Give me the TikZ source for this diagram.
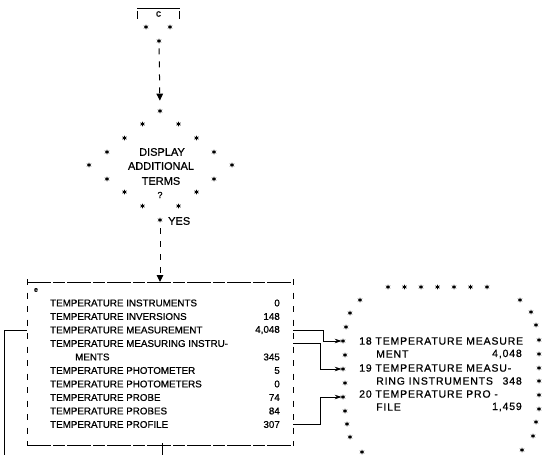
\documentclass[tikz,border=0pt]{standalone}
\usepackage{fontspec}
\setmainfont{Liberation Sans}[FakeBold=0.7]
\usetikzlibrary{shapes.geometric,arrows.meta,calc}
\begin{document}
\begin{tikzpicture}[x=1pt,y=-1pt,
  txt/.style={inner sep=0pt,font=\fontsize{9.8}{11}\selectfont},
  dtxt/.style={inner sep=0pt,font=\fontsize{11}{12}\selectfont},
  rtxt/.style={inner sep=0pt,font=\fontsize{10.5}{12}\selectfont\addfontfeatures{LetterSpace=8}},
  sm/.style={star,star points=6,star point ratio=2.6,fill=black,inner sep=0pt,minimum size=5.5pt},
  dconn/.style={line width=1pt,dash pattern=on 6pt off 7pt,-{Triangle[width=6.5pt,length=7pt]}},
  lconn/.style={line width=0.9pt},
  edgeh/.style={line width=1pt,dash pattern=on 24pt off 2pt on 12pt off 2pt},
  edgev/.style={line width=1pt,dash pattern=on 6pt off 7.5pt}]
\useasboundingbox (0,0) rectangle (543,455);
% top connector box
\node[inner sep=0pt,minimum width=42pt,minimum height=10pt,font=\fontsize{10}{11}\selectfont] (cbox) at (158.5,14) {c};
\draw[line width=1pt] (cbox.north west) -- (cbox.north east);
\draw[line width=1pt] ([yshift=-2pt]cbox.north west) -- (cbox.south west);
\draw[line width=1pt] ([yshift=-2pt]cbox.north east) -- (cbox.south east);
\node[sm] (cs1) at (146,27) {};
\node[sm] (cs2) at (170,27) {};
\node[sm] (cst) at (159,41) {};
% diamond of stars
\node[sm] (d0) at (160,111) {};
\foreach \i/\dx/\y in {1/18/124,2/36/138,3/53.5/152,4/71.5/165,5/53.5/179,6/36/192,7/18/206}{
  \node[sm] (dl\i) at (160.5-\dx,\y) {};
  \node[sm] (dr\i) at (160.5+\dx,\y) {};
}
\node[sm] (dbot) at (160,220) {};
\node[dtxt] (t1) at (162,152) {DISPLAY};
\node[dtxt] (t2) at (161,166) {ADDITIONAL};
\node[dtxt] (t3) at (161,181) {TERMS};
\node[dtxt,font=\fontsize{9}{10}\selectfont] (t4) at (160,195) {?};
\node[dtxt,anchor=west] (yes) at (168,221) {YES};
\draw[dconn,shorten <=4pt,shorten >=7pt] (cst) -- (d0);
% list box
\node[inner sep=0pt,minimum width=266pt,minimum height=163pt,anchor=north west] (box) at (27,282) {};
\draw[edgeh] (box.north west) -- (box.north east);
\draw[edgeh] (box.south west) -- (box.south east);
\draw[edgev] ([yshift=3pt]box.north west) -- (box.south west);
\draw[edgev] ([yshift=3pt]box.north east) -- (box.south east);
\draw[dconn,shorten <=5pt] (dbot) -- (box.north -| dbot);
\node[txt,font=\bfseries\fontsize{7}{8}\selectfont] (e) at (36,290) {e};
\foreach \n/\y/\a/\b in {1/303/TEMPERATURE INSTRUMENTS/0,2/316.5/TEMPERATURE INVERSIONS/148,3/330/{TEMPERATURE MEASUREMENT}/{4,048},4/343.5/TEMPERATURE MEASURING INSTRU-/{},6/370.5/TEMPERATURE PHOTOMETER/5,7/384/TEMPERATURE PHOTOMETERS/0,8/397.5/TEMPERATURE PROBE/74,9/411/TEMPERATURE PROBES/84,10/424.5/TEMPERATURE PROFILE/307}{
  \node[txt,anchor=west] (r\n) at (50,\y) {\a};
  \node[txt,anchor=east] (n\n) at (280,\y) {\b};
}
\node[txt,anchor=west] (r5) at (75,357) {MENTS};
\node[txt,anchor=east] (n5) at (280,357) {345};
% left bracket
\coordinate (lb) at (4,455);
\draw[lconn] (box.west |- r3) -- (lb |- r3) -- (lb);
% bottom tick
\coordinate (bt) at (162,455);
\draw[lconn] ([yshift=2pt]box.south -| bt) -- (bt);
% right star ring
\foreach \i/\x in {1/388,2/404.5,3/421,4/437.5,5/454,6/470.5,7/487}{
  \node[sm] (top\i) at (\x,287) {};
}
\foreach \i/\x/\y in {1/360/300,2/350/313,3/346/327,4/343/341,5/345/355,6/343/369,7/345/383,8/343/397,9/345/411,10/347/424,11/350/437,12/362/452}{
  \node[sm] (L\i) at (\x,\y) {};
}
\foreach \i/\x/\y in {1/520/300,2/531/312,3/536/325,4/539/340,5/539/354,6/539/368,7/539/381,8/539/395,9/539/409,10/536/422,11/533/436,12/522/450}{
  \node[sm] (R\i) at (\x,\y) {};
}
\node[rtxt,anchor=west] (q1) at (359,341) {18 TEMPERATURE MEASURE};
\node[rtxt,anchor=west] (q2) at (376,354) {MENT};
\node[rtxt,anchor=east] (m2) at (522,354) {4,048};
\node[rtxt,anchor=west] (q3) at (359,368) {19 TEMPERATURE MEASU-};
\node[rtxt,anchor=west] (q4) at (376,381) {RING INSTRUMENTS};
\node[rtxt,anchor=east] (m4) at (522,381) {348};
\node[rtxt,anchor=west] (q5) at (359,394) {20 TEMPERATURE PRO -};
\node[rtxt,anchor=west] (q6) at (376,407) {FILE};
\node[rtxt,anchor=east] (m6) at (522,407) {1,459};
% connectors to ring
\draw[lconn,-{Stealth[length=7pt,width=4.5pt]}] (box.east |- r3) -- ++(30,0) |- (L4.west);
\draw[lconn,-{Stealth[length=7pt,width=4.5pt]}] (box.east |- r4) -- ++(27,0) |- (L6.west);
\draw[lconn,-{Stealth[length=7pt,width=4.5pt]}] (box.east |- r10) -- ++(27,0) |- (L8.west);
\end{tikzpicture}
\end{document}
